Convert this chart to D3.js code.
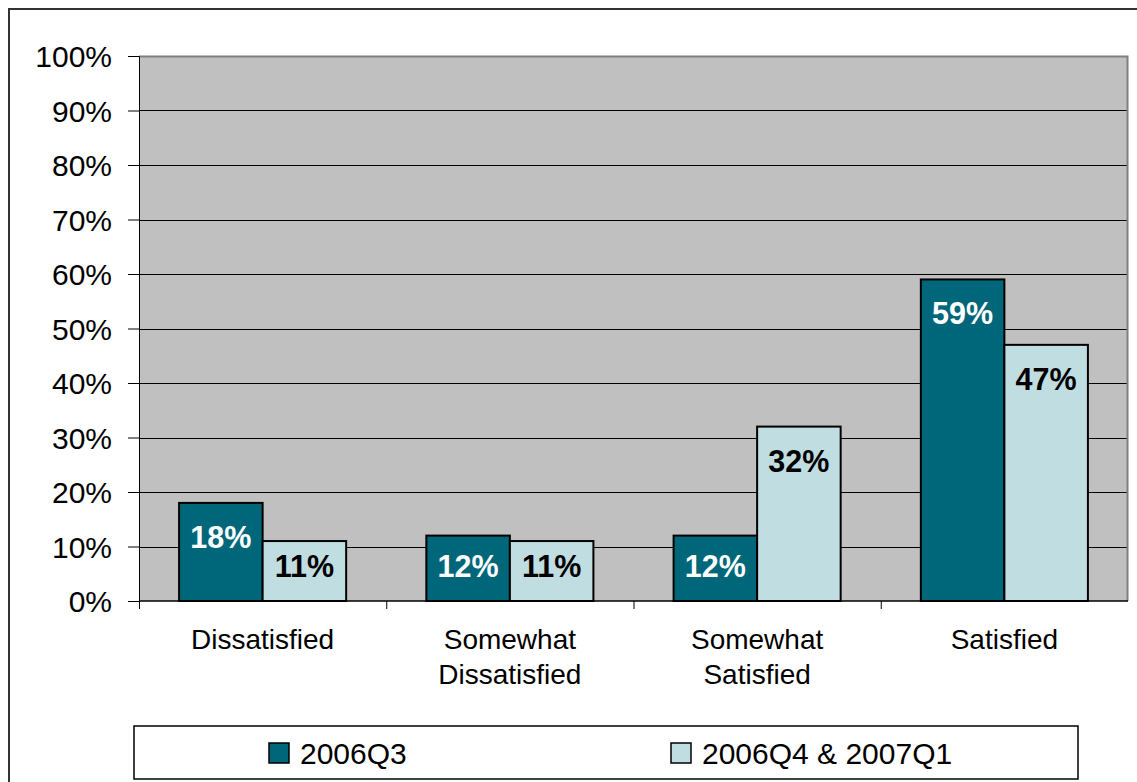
<!DOCTYPE html>
<html>
<head>
<meta charset="utf-8">
<script src="https://cdn.jsdelivr.net/npm/d3@7"></script>
<style>
html,body{margin:0;padding:0;background:#fff;}
svg{display:block;font-family:"Liberation Sans",Arial,sans-serif;}
</style>
</head>
<body>
<svg id="chart" width="1137" height="782"></svg>
<script>
const categories = [["Dissatisfied"], ["Somewhat", "Dissatisfied"], ["Somewhat", "Satisfied"], ["Satisfied"]];
const seriesNames = ["2006Q3", "2006Q4 & 2007Q1"];
const series1 = [0.18, 0.12, 0.12, 0.59];
const series2 = [0.11, 0.11, 0.32, 0.47];
const yTicks = [0, 0.1, 0.2, 0.3, 0.4, 0.5, 0.6, 0.7, 0.8, 0.9, 1.0];

const colors = ["#00677A", "#C0DDE1"];
const labelColors = ["#ffffff", "#000000"];

const svg = d3.select("#chart");
const plot = {left: 139, right: 1128, top: 56, bottom: 601};

// outer frame
svg.append("rect").attr("x", 9).attr("y", 9).attr("width", 1140).attr("height", 790)
  .attr("fill", "#fff").attr("stroke", "#333").attr("stroke-width", 2);

const catKeys = categories.map((c, i) => i);
const x0 = d3.scaleBand().domain(catKeys).range([plot.left, plot.right]).padding(0);
const x1 = d3.scaleBand().domain([0, 1]).range([0, x0.bandwidth()]).paddingInner(0).paddingOuter(0.48);
const y = d3.scaleLinear().domain([0, 1]).range([plot.bottom, plot.top]);

// plot area background
svg.append("rect").attr("x", plot.left).attr("y", plot.top)
  .attr("width", plot.right - plot.left).attr("height", plot.bottom - plot.top)
  .attr("fill", "#C0C0C0");

// gridlines
svg.append("g").selectAll("line").data(yTicks.filter(t => t > 0 && t < 1)).join("line")
  .attr("x1", plot.left).attr("x2", plot.right)
  .attr("y1", d => Math.round(y(d)) + 0.5).attr("y2", d => Math.round(y(d)) + 0.5)
  .attr("stroke", "#000").attr("stroke-width", 1);

// plot border top/right gray
svg.append("path")
  .attr("d", `M${plot.left},${plot.top + 0.5}H${plot.right - 0.5}V${plot.bottom}`)
  .attr("fill", "none").attr("stroke", "#808080").attr("stroke-width", 2);

// y axis
const yAxis = d3.axisLeft(y).tickValues(yTicks).tickSize(11).tickPadding(16)
  .tickFormat(d => Math.round(d * 100) + "%");
const gy = svg.append("g").attr("transform", `translate(${plot.left},0)`).call(yAxis);
gy.select(".domain").attr("stroke", "#000").attr("stroke-width", 1);
gy.selectAll(".tick line").attr("stroke", "#000");
gy.selectAll(".tick text").attr("font-size", 30).attr("fill", "#000")
  .attr("font-family", "'Liberation Sans',Arial,sans-serif").attr("dy", "0.36em");

// bars
const data = [];
categories.forEach((c, i) => {
  data.push({cat: i, s: 0, v: series1[i]});
  data.push({cat: i, s: 1, v: series2[i]});
});
svg.append("g").selectAll("rect").data(data).join("rect")
  .attr("x", d => x0(d.cat) + x1(d.s))
  .attr("y", d => y(d.v))
  .attr("width", x1.bandwidth())
  .attr("height", d => y(0) - y(d.v))
  .attr("fill", d => colors[d.s])
  .attr("stroke", "#000").attr("stroke-width", 2);

// x axis line
svg.append("line").attr("x1", plot.left).attr("x2", plot.right)
  .attr("y1", plot.bottom).attr("y2", plot.bottom).attr("stroke", "#000").attr("stroke-width", 1.5);
// category tick marks
const bounds = catKeys.map(k => x0(k));
svg.append("g").selectAll("line").data(bounds).join("line")
  .attr("x1", d => d + 0.5).attr("x2", d => d + 0.5)
  .attr("y1", plot.bottom).attr("y2", plot.bottom + 8).attr("stroke", "#000");

// data labels
svg.append("g").selectAll("text").data(data).join("text")
  .attr("x", d => x0(d.cat) + x1(d.s) + x1.bandwidth() / 2)
  .attr("y", d => Math.min(y(d.v) + 34, y(0) - 35) + 11)
  .attr("text-anchor", "middle")
  .attr("font-size", 30.5).attr("font-weight", "bold")
  .attr("fill", d => labelColors[d.s])
  .text(d => Math.round(d.v * 100) + "%");

// category labels
const cl = svg.append("g").selectAll("text").data(categories).join("text")
  .attr("x", (d, i) => x0(i) + x0.bandwidth() / 2)
  .attr("y", 649)
  .attr("text-anchor", "middle").attr("font-size", 28).attr("fill", "#000");
cl.selectAll("tspan").data(d => d).join("tspan")
  .attr("x", function() { return this.parentNode.getAttribute("x"); })
  .attr("dy", (d, i) => i === 0 ? 0 : 35)
  .text(d => d);

// legend
svg.append("rect").attr("x", 134).attr("y", 726).attr("width", 944).attr("height", 53)
  .attr("fill", "#fff").attr("stroke", "#000").attr("stroke-width", 1.5);
const legX = [269, 671];
const lg = svg.append("g").selectAll("g").data(seriesNames).join("g")
  .attr("transform", (d, i) => `translate(${legX[i]},0)`);
lg.append("rect").attr("x", 0).attr("y", 743).attr("width", 20).attr("height", 20)
  .attr("fill", (d, i) => colors[i]).attr("stroke", "#000").attr("stroke-width", 1.5);
lg.append("text").attr("x", 31).attr("y", 764).attr("font-size", 30).attr("fill", "#000")
  .text(d => d);
</script>
</body>
</html>
